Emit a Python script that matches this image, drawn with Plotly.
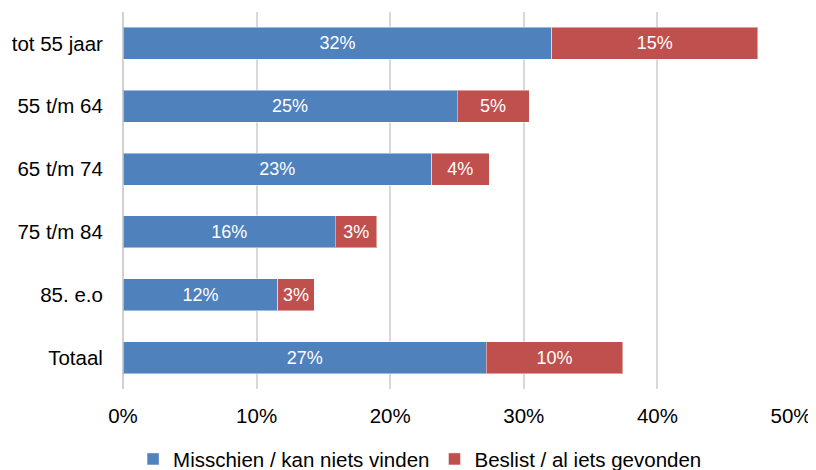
import plotly.graph_objects as go

categories = ["tot 55 jaar", "55 t/m 64", "65 t/m 74", "75 t/m 84", "85. e.o", "Totaal"]
misschien = [32.1, 25.0, 23.1, 15.9, 11.6, 27.2]
beslist = [15.4, 5.4, 4.3, 3.1, 2.7, 10.2]
series_names = ["Misschien / kan niets vinden", "Beslist / al iets gevonden"]
colors = ["#4F81BD", "#C0504D"]
x_ticks = [0, 10, 20, 30, 40, 50]
x_ticklabels = ["0%", "10%", "20%", "30%", "40%", "50%"]

FONT = "Arial, Liberation Sans, sans-serif"

fig = go.Figure()
for name, vals, col in zip(series_names, [misschien, beslist], colors):
    fig.add_trace(go.Bar(
        y=categories, x=vals, name=name, orientation="h",
        marker=dict(color=col, line=dict(color="rgba(255,255,255,0.45)", width=1)),
        texttemplate="%{x:.0f}%", textposition="inside", insidetextanchor="middle",
        constraintext="none",
        textfont=dict(family=FONT, size=18, color="white"),
        hoverinfo="skip",
    ))

# page body has an 8px default margin, so the figure is drawn at (8, 8)
fig.update_layout(
    barmode="stack",
    bargap=0.49,
    width=808, height=462,
    margin=dict(l=115, r=25, t=4, b=81, autoexpand=False),
    plot_bgcolor="white", paper_bgcolor="white",
    font=dict(family=FONT, size=20, color="#000000"),
    showlegend=True,
    legend=dict(
        orientation="h", xref="container", yref="paper",
        x=0.51, xanchor="center", y=-0.186, yanchor="middle",
        font=dict(family=FONT, size=20.5, color="#000000"),
        itemwidth=30, traceorder="normal",
    ),
    xaxis=dict(
        range=[0, 50], tickvals=x_ticks, ticktext=x_ticklabels,
        showgrid=True, gridcolor="#d9d9d9", gridwidth=1.5,
        zeroline=True, zerolinecolor="#d0d0d0", zerolinewidth=2,
        showline=False, ticks="outside", ticklen=8, tickcolor="rgba(0,0,0,0)",
        tickfont=dict(family=FONT, size=20.5),
        automargin=False, fixedrange=True,
    ),
    yaxis=dict(
        autorange="reversed", showgrid=False, zeroline=False, showline=False,
        ticks="outside", ticklen=15, tickcolor="rgba(0,0,0,0)",
        tickfont=dict(family=FONT, size=20.5),
        automargin=False, fixedrange=True,
    ),
)

fig.write_html("out.html")
